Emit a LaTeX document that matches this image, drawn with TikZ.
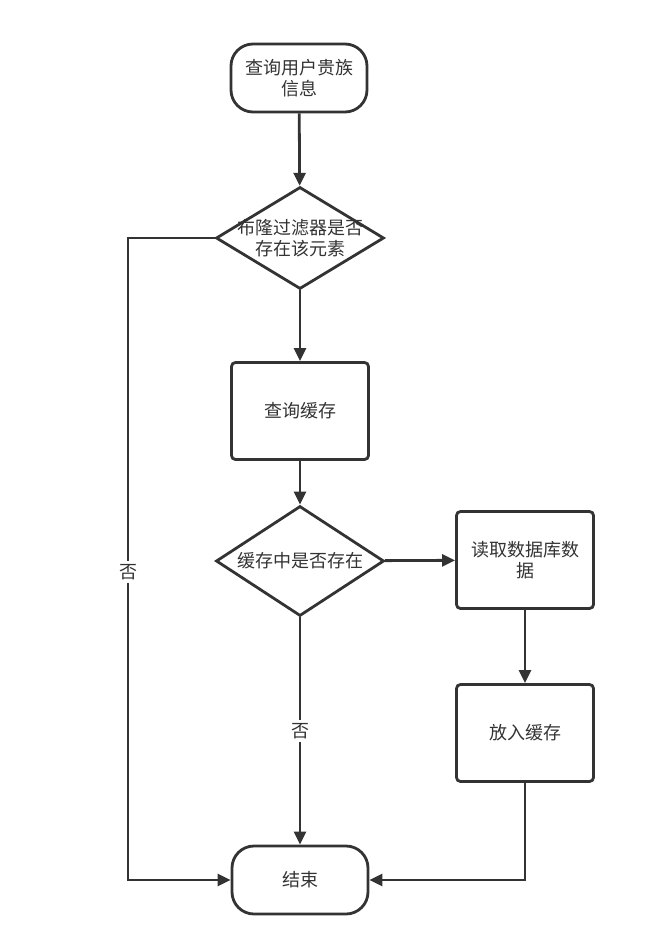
\documentclass[tikz,border=0pt]{standalone}
\usepackage{fontspec}
\setmainfont{Noto Sans CJK SC}
\usepackage{tikz}
\usetikzlibrary{shapes.geometric,arrows.meta}
\definecolor{flowline}{HTML}{333333}

\tikzset{
  terminal/.style={draw=flowline, line width=2.8pt, rounded corners=22pt,
    minimum width=136pt, minimum height=68pt, align=center, text=flowline},
  process/.style={draw=flowline, line width=2.8pt, rounded corners=4pt,
    minimum width=137pt, minimum height=97pt, align=center, text=flowline},
  decision/.style={draw=flowline, line width=2.8pt, diamond, inner sep=0pt,
    inner xsep=-25pt, inner ysep=-12pt, minimum width=168pt, minimum height=108pt,
    align=center, text=flowline},
  flow/.style={draw=flowline, line width=2.8pt,
    -{Triangle[length=13pt,width=12pt]}},
  answer/.style={fill=white, text=flowline, inner sep=3pt},
}

\begin{document}
\begin{tikzpicture}[x=1pt,y=-1pt,font=\fontsize{18}{21}\selectfont]

    \useasboundingbox (0,0) rectangle (664,937);

    \node[terminal] (query) at (299,78) {查询用户贵族\\信息};

    \node[decision, minimum height=102pt] (bloom) at (300,238) {布隆过滤器是否\\存在该元素};

    \node[process] (cache) at (300,411) {查询缓存};

    \node[decision, minimum height=110pt] (incache) at (300,561) {缓存中是否存在};

    \node[process, text width=120pt] (readdb) at (525,560) {读取数据库数\\据};

    \node[process] (putcache) at (525,733) {放入缓存};

    \node[terminal] (finish) at (300,880) {结束};

    \coordinate (leftbend) at (128,238);



    \draw[flow] (query) -- (bloom);

    \draw[flow] (bloom) -- (cache);

    \draw[flow] (cache) -- (incache);

    \draw[flow] (incache) -- (readdb);

    \draw[flow] (readdb) -- (putcache);

    \draw[flow] (incache) -- node[answer] {否} (finish);

    \draw[flow] (bloom.west) -- (leftbend) |- node[answer, pos=0.26] {否} (finish.west);

    \draw[flow] (putcache.south) |- (finish.east);

\end{tikzpicture}
\end{document}
